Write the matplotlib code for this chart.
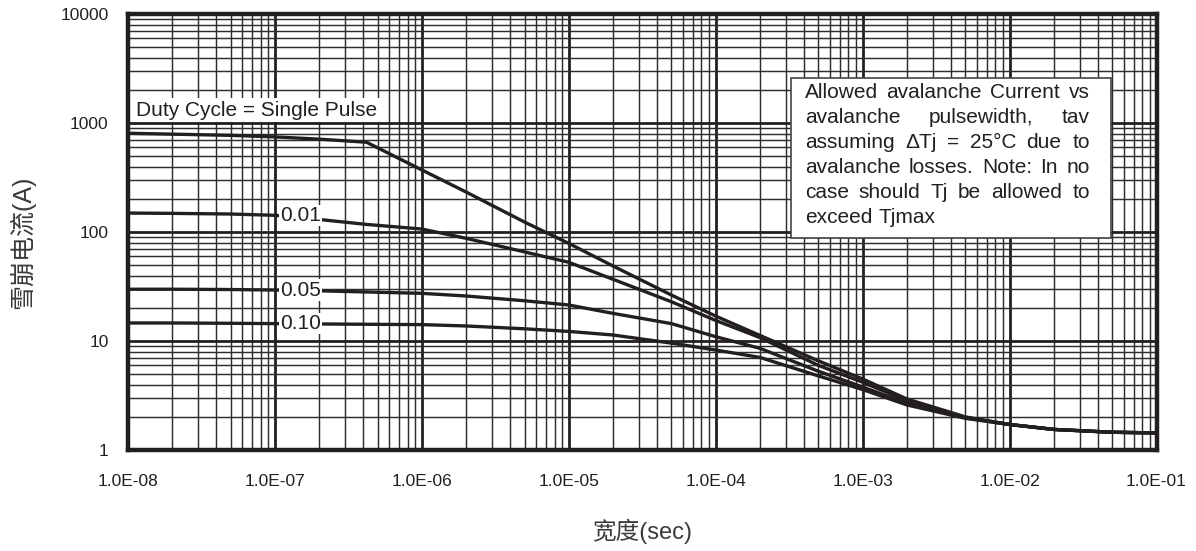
import matplotlib
matplotlib.use("Agg")
import matplotlib.pyplot as plt
from matplotlib.ticker import LogLocator, FuncFormatter, NullFormatter

plt.rcParams["font.family"] = ["Liberation Sans", "Noto Sans CJK SC", "DejaVu Sans"]

INK = "#231f20"

# pulse width (s)
tav = [1e-8, 2e-8, 5e-8, 1e-7, 2e-7, 4.2e-7, 1e-6, 2e-6, 5e-6, 1e-5, 2e-5,
       5e-5, 1e-4, 2e-4, 5e-4, 1e-3, 2e-3, 5e-3, 1e-2, 2e-2, 5e-2, 1e-1]

# allowed avalanche current (A) per duty cycle
i_single = [810, 795, 775, 750, 715, 670, 373, 234, 124, 79, 49,
            26.5, 17, 11.3, 6.6, 4.5, 2.95, 2.02, 1.72, 1.55, 1.46, 1.44]
i_001 = [150, 149, 147, 143, 131, 118, 107, 88, 66, 53, 37,
         23, 15.5, 10.8, 6.0, 4.2, 2.85, 2.0, 1.72, 1.55, 1.46, 1.44]
i_005 = [30, 30, 29.8, 29.5, 29, 28.3, 27.5, 26, 23.5, 21.5, 18,
         14.5, 11, 8.6, 5.3, 3.8, 2.7, 1.98, 1.72, 1.55, 1.46, 1.44]
i_010 = [14.7, 14.7, 14.6, 14.5, 14.4, 14.3, 14.2, 13.8, 13.0, 12.3, 11.4,
         9.6, 8.3, 7.1, 4.8, 3.6, 2.6, 1.96, 1.72, 1.55, 1.46, 1.44]

x_ticks = [1e-8, 1e-7, 1e-6, 1e-5, 1e-4, 1e-3, 1e-2, 1e-1]
y_ticks = [1, 10, 100, 1000, 10000]

duty_labels = ["0.01", "0.05", "0.10"]
label_t = 1.5e-7

note_lines = [
    "Allowed avalanche Current vs",
    "avalanche pulsewidth, tav",
    "assuming ΔTj = 25°C due to",
    "avalanche losses. Note: In no",
    "case should Tj be allowed to",
    "exceed Tjmax",
]

fig = plt.figure(figsize=(11.96, 5.51), dpi=100)
ax = fig.add_axes([0.107, 0.183, 0.860, 0.791])

for series in (i_single, i_001, i_005, i_010):
    ax.plot(tav, series, color=INK, lw=2.4, solid_capstyle="butt", zorder=3)

ax.set_xscale("log")
ax.set_yscale("log")
ax.set_xlim(x_ticks[0], x_ticks[-1])
ax.set_ylim(y_ticks[0], y_ticks[-1])

ax.set_xticks(x_ticks)
ax.set_yticks(y_ticks)
ax.xaxis.set_minor_locator(LogLocator(base=10, subs=range(2, 10), numticks=100))
ax.yaxis.set_minor_locator(LogLocator(base=10, subs=range(2, 10), numticks=100))
ax.xaxis.set_minor_formatter(NullFormatter())
ax.yaxis.set_minor_formatter(NullFormatter())
ax.xaxis.set_major_formatter(FuncFormatter(lambda v, p: f"{v:.1E}"))
ax.yaxis.set_major_formatter(FuncFormatter(lambda v, p: f"{v:g}"))

ax.grid(which="major", color=INK, lw=2.0, zorder=1)
ax.grid(which="minor", color="#2e2e2e", lw=1.05, zorder=1)
ax.set_axisbelow(True)
ax.tick_params(which="both", length=0)
ax.tick_params(axis="x", labelsize=12.5, pad=17, colors=INK)
ax.tick_params(axis="y", labelsize=12.5, pad=14, colors=INK)
for s in ax.spines.values():
    s.set_linewidth(3.2)
    s.set_color(INK)
    s.set_zorder(5)

ax.set_xlabel("宽度(sec)", fontsize=17, color="#3a3a3a")
ax.xaxis.set_label_coords(0.5, -0.158)
ax.set_ylabel("雪崩电流(A)", fontsize=18, color="#3a3a3a")
ax.yaxis.set_label_coords(-0.09, 0.477)

# duty cycle tags sitting on their curves
for lab, series in zip(duty_labels, (i_001, i_005, i_010)):
    ax.text(label_t, series[3], lab, fontsize=15, color=INK, ha="center",
            va="center", zorder=4,
            bbox=dict(facecolor="white", edgecolor="none", pad=0.8))

ax.text(0.008, 0.78, "Duty Cycle = Single Pulse", transform=ax.transAxes,
        fontsize=15, color=INK, ha="left", va="center", zorder=4,
        bbox=dict(facecolor="white", edgecolor="none", pad=2.0))

# note box, lines justified to the box width except the last
box = plt.Rectangle((0.645, 0.486), 0.311, 0.367, transform=ax.transAxes,
                    facecolor="white", edgecolor="#444444", lw=1.2, zorder=6)
ax.add_patch(box)

x0, x1 = 0.658, 0.935
y_top, step = 0.821, 0.0573
fig.canvas.draw()
renderer = fig.canvas.get_renderer()
ax_w = ax.bbox.width
for i, line in enumerate(note_lines):
    y = y_top - i * step
    words = line.split()
    texts = [ax.text(0, y, w, transform=ax.transAxes, fontsize=15, color=INK,
                     ha="left", va="center", zorder=7) for w in words]
    widths = [t.get_window_extent(renderer).width / ax_w for t in texts]
    if i == len(note_lines) - 1 or len(words) == 1:
        gap = 0.0065
    else:
        gap = (x1 - x0 - sum(widths)) / (len(words) - 1)
    x = x0
    for t, w in zip(texts, widths):
        t.set_x(x)
        x += w + gap

fig.savefig("out.png", dpi=100)
